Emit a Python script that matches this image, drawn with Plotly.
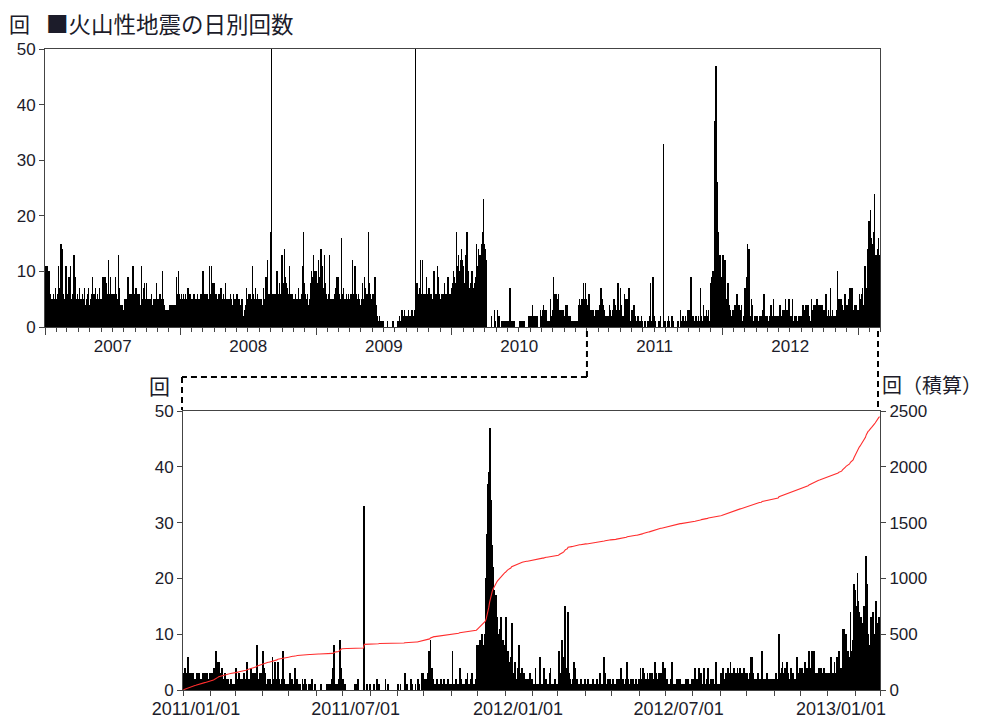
import calendar
import datetime as dt
import numpy as np
import plotly.graph_objects as go

# ---------------------------------------------------------------------------
# Daily counts of volcanic earthquakes, one string per month.
# Each character is one day: 0-9, a-z = 10-35, A-Z = 36-61.
# ---------------------------------------------------------------------------
ALPHABET = "0123456789abcdefghijklmnopqrstuvwxyzABCDEFGHIJKLMNOPQRSTUVWXYZ"

counts_2007 = [
    "b3574b2643 a425362453 42635247325", "43625b4372 54f6e35426 35426b35",
    "5364295346 b43562435d 46392543624", "3527432543 6243527342 3542637243",
    "4352643952 4362547325 36425374253", "4356294536 9352843625 c436295346",
    "5362453629 436253d473 24324323423", "3425342534 2943524635 24635b43625",
    "4372543624 536243b534 2573482534", "8352435243 5243623425 34253248352",
    "4352436243 524a352432 3231232132", "2342324324 3243234132 94356a46354",
]
counts_2008 = [
    "4536245362 5346253425 73452634524", "3524362435 2435263425 346253463",
    "a453642546 35462534b5 463b5438534", "8453643524 5346243573 4352463425",
    "8435243542 4352643524 35624352463", "4635243542 3423542121 2132437534",
    "5364253643 52b4635243 73524634253", "4352435423 7435243943 5c46354639h",
    "eY56346253 463524a534 638453647d", "574638e594 683574635b 46352463524",
    "3542634524 3547325435 4263b54h85", "5364253643 24325846a5 7946d85a479",
]
counts_2009 = [
    "6a485c3795 486e59b467 35d64853645", "4635d42534 2534253462 73452943",
    "594362549g 4635274352 43625342635", "35462534c5 3642b53462 5342635243",
    "4352683549 5374253645 3h853642534", "5364254969 3412010012 0100010010",
    "1000000000 0100000000 00000011000", "0000000010 1020100310 03102031012",
    "2012013102 1021032102 1213Wt8576", "85463574c6 4537c54635 46359435647",
    "5746354635 463a954635 463b594635", "4536254635 4835246354 39546354267",
]
counts_2010 = [
    "57486a5976 85h96b78d6 87a5c96e8cb", "9685769d86 h87a6a5746 8596a767",
    "7586697af8 9b7ea8cd9d cefbdhnefcd", "eac8a00000 0000000210 0000030100",
    "0003020200 0000101001 01001001000", "0100007000 0101001011 0000000000",
    "0010100101 0100101000 00000020120", "2010204102 0120021020 10000003102",
    "1302410320 1302100100 1005102101", "3925362453 6253462312 31203213212",
    "2134213421 2021202101 0100010010", "0100100134 2534253423 58342548354",
]
counts_2011 = [
    "3343362323 2321233232 12323123223", "3323437545 3324223221 21121101",
    "2421312122 3125221342 32328321323", "7423112121 1621521521 1127211001",
    "1312104102 1010021021 00100120010", "0000010000 0010110204 8110129942",
    "2010000000 0001010200 0000x001001", "0000100201 1000000200 10000000000",
    "1001000031 0100021000 1002100313", "1212372944 2101210112 01210102101",
    "1710120114 1201102131 0123110128", "8698a478ak sBDLDyqmid hbda8bd7968",
]
counts_2012 = [
    "5d47356c42 3521483224 23121021312", "1114110161 1104120113 411102111",
    "1732946f53 4e32101254 02110121012", "1012101121 0112013101 1630121210",
    "1211021121 4121021521 12102112112", "2412432123 2132321523 2132312524",
    "2211122511 1121212011 11021211021", "2142124123 1141121411 21210151011",
    "3234123243 2531342314 3241324313", "3213662322 2132212722 21321212121",
    "21321a3245 3242532134 2321263234", "3423532437 4273472332 42342343323",
]
counts_2013 = [
    "2316231523 637243b5b6 a4756e679ji", "fclgeadcbf 9hoja86d97 e8ag8cd9",
]

YEARLY = {2007: counts_2007, 2008: counts_2008, 2009: counts_2009,
          2010: counts_2010, 2011: counts_2011, 2012: counts_2012,
          2013: counts_2013}

top_range = ["2007-01-01", "2013-03-01"]
bottom_range = ["2011-01-01", "2013-03-01"]
bottom_tickvals = ["2011-01-01", "2011-07-01", "2012-01-01", "2012-07-01", "2013-01-01"]
bottom_ticktext = ["2011/01/01", "2011/07/01", "2012/01/01", "2012/07/01", "2013/01/01"]

title_text = "■火山性地震の日別回数"
unit_left = "回"
unit_right = "回（積算）"

# ---------------------------------------------------------------------------
dates, values, bad = [], [], []
for year, months in YEARLY.items():
    for m, s in enumerate(months, start=1):
        chars = s.replace(" ", "")
        n = calendar.monthrange(year, m)[1]
        if len(chars) != n:
            bad.append(f"{year}-{m:02d}: {len(chars)} != {n}")
        for d, ch in enumerate(chars[:n], start=1):
            dates.append(dt.datetime(year, m, d, 12))
            values.append(ALPHABET.index(ch))
if bad:
    raise ValueError("month length mismatch: " + "; ".join(bad))

dates = np.array(dates)
values = np.array(values)
mask = dates >= dt.datetime(2011, 1, 1)
b_dates = dates[mask]
b_values = values[mask]
b_cum = np.cumsum(b_values)

# page has an 8px body margin: figure is drawn 8px in from the window corner
OFF = 8
W, H = 984 - OFF, 718 - OFF
def px(x): return (x - OFF) / W
def py(y): return 1 - (y - OFF) / H

TOP_L, TOP_R, TOP_T, TOP_B = 45, 880, 49, 327
BOT_L, BOT_R, BOT_T, BOT_B = 183, 880, 411, 690

LINE = "#444444"
TXT = "#1c1c2a"
NUMFONT = dict(family="Liberation Sans, Arial, sans-serif", size=17, color=TXT)
JPFONT = "Noto Sans CJK JP, sans-serif"

fig = go.Figure()
fig.add_trace(go.Bar(x=dates, y=values, xaxis="x", yaxis="y",
                     marker=dict(color="black", line=dict(width=0)),
                     hoverinfo="skip"))
fig.add_trace(go.Bar(x=b_dates, y=b_values, xaxis="x2", yaxis="y2",
                     marker=dict(color="black", line=dict(width=0)),
                     hoverinfo="skip"))
fig.add_trace(go.Scatter(x=b_dates, y=b_cum, xaxis="x2", yaxis="y3",
                         mode="lines", line=dict(color="rgb(255,45,45)", width=1.1),
                         hoverinfo="skip"))

common_axis = dict(showgrid=False, zeroline=False, showline=True,
                   linecolor=LINE, linewidth=1, ticks="outside",
                   tickcolor=LINE, tickwidth=1, tickfont=NUMFONT,
                   automargin=False)

fig.update_layout(
    width=W, height=H, margin=dict(l=0, r=0, t=0, b=0, pad=0, autoexpand=False),
    paper_bgcolor="white", plot_bgcolor="white",
    showlegend=False, bargap=0,
    xaxis=dict(domain=[px(TOP_L), px(TOP_R)], anchor="y", type="date",
               range=top_range, tick0="2007-01-01", dtick="M12",
               tickformat="%Y", ticklabelmode="period", ticklen=7,
               mirror=True, ticklabelstandoff=-3,
               minor=dict(tick0="2007-01-01", dtick="M1", ticks="outside",
                          ticklen=4, tickcolor=LINE, showgrid=False),
               **common_axis),
    yaxis=dict(domain=[py(TOP_B), py(TOP_T)], anchor="x", range=[0, 50],
               dtick=10, ticklen=5, mirror=True, **common_axis),
    xaxis2=dict(domain=[px(BOT_L), px(BOT_R)], anchor="y2", type="date",
                range=bottom_range, tickmode="array", tickvals=bottom_tickvals,
                ticktext=bottom_ticktext, ticklen=5, mirror=True,
                ticklabelshift=13, ticklabelstandoff=-3,
                minor=dict(tickmode="linear", tick0="2011-01-01", dtick="M1",
                           ticks="outside", ticklen=5, tickcolor=LINE,
                           showgrid=False),
                **{**common_axis, "tickfont": dict(NUMFONT, size=18)}),
    yaxis2=dict(domain=[py(BOT_B), py(BOT_T)], anchor="x2", range=[0, 50],
                dtick=10, ticklen=5, **common_axis),
    yaxis3=dict(overlaying="y2", anchor="x2", side="right", range=[0, 2500],
                dtick=500, ticklen=5, **common_axis),
)

# annotations (text labels)
ann = [
    dict(text=unit_left, x=px(19), y=py(23), xanchor="center", yanchor="middle",
         font=dict(family=JPFONT, size=21, color=TXT)),
    dict(text=title_text, x=px(45), y=py(23), xanchor="left", yanchor="middle",
         font=dict(family=JPFONT, size=22.5, color=TXT)),
    dict(text=unit_left, x=px(159), y=py(385), xanchor="center", yanchor="middle",
         font=dict(family=JPFONT, size=21, color=TXT)),
    dict(text=unit_right, x=px(881), y=py(385), xanchor="left", yanchor="middle",
         font=dict(family=JPFONT, size=20, color=TXT)),
]
for a in ann:
    a.update(xref="paper", yref="paper", showarrow=False, borderpad=0)
fig.update_layout(annotations=ann)

# dashed connectors between the two panels
t0 = dt.datetime.fromisoformat(top_range[0])
t1 = dt.datetime.fromisoformat(top_range[1])
link = dt.datetime.fromisoformat(bottom_range[0])
link_px = TOP_L + (link - t0) / (t1 - t0) * (TOP_R - TOP_L)
dash = dict(color="black", width=2, dash="6px,4px")
shapes = [
    dict(type="line", xref="paper", yref="paper", x0=px(link_px), x1=px(link_px),
         y0=py(TOP_B + 4), y1=py(377), line=dash),
    dict(type="line", xref="paper", yref="paper", x0=px(link_px), x1=px(BOT_L - 1),
         y0=py(377), y1=py(377), line=dash),
    dict(type="line", xref="paper", yref="paper", x0=px(BOT_L - 1), x1=px(BOT_L - 1),
         y0=py(377), y1=py(BOT_T - 1), line=dash),
    dict(type="line", xref="paper", yref="paper", x0=px(TOP_R - 2), x1=px(TOP_R - 2),
         y0=py(TOP_B + 4), y1=py(BOT_T - 1), line=dash),
]
fig.update_layout(shapes=shapes)

fig.write_html("out.html")
